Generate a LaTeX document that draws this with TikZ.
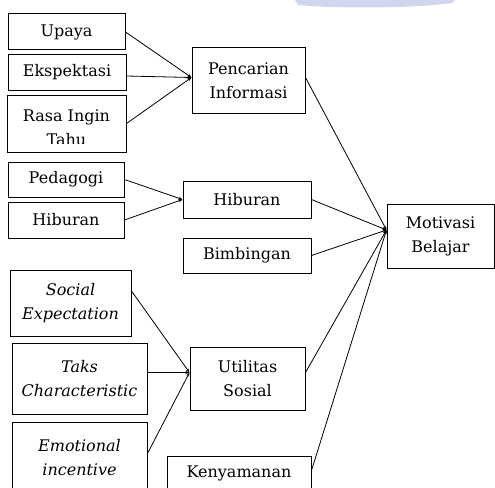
\documentclass[tikz,border=0pt]{standalone}
\usepackage{fontspec}
\setmainfont{DejaVu Serif}
\usetikzlibrary{arrows.meta}
\definecolor{tandaair}{RGB}{210,213,238}

\begin{document}
\begin{tikzpicture}[x=1pt, y=-1pt, font=\fontsize{16}{24}\selectfont,
  kotak/.style={draw, line width=1pt, align=center, inner sep=0pt},
  garis/.style={line width=0.8pt, -{Stealth[length=4pt, width=3pt]}}]
  \useasboundingbox (0,0) rectangle (495,487);
  \clip (0,0) rectangle (495,487);
  % --- sisa tanda air di atas ---
  \fill[tandaair] (295,0) -- (298,5) .. controls (340,9) and (420,8) .. (452,3) -- (455,0) -- cycle;
  % --- kolom kiri: indikator ---
  \node[kotak, minimum width=117, minimum height=36] (upaya) at (66.5,32) {Upaya};
  \node[kotak, minimum width=118, minimum height=35] (ekspektasi) at (67,72.5) {Ekspektasi};
  \node[kotak, minimum width=119, minimum height=57,
    path picture={
      \clip (path picture bounding box.north west) rectangle ([yshift=9pt]path picture bounding box.south east);
      \node[align=center] at ([yshift=-4pt]path picture bounding box.center) {Rasa Ingin\\Tahu};
    }] (rasa) at (66.5,123.5) {};
  \node[kotak, minimum width=116, minimum height=35] (pedagogi) at (66,179.5) {Pedagogi};
  \node[kotak, minimum width=116, minimum height=36] (hiburankiri) at (66,220) {Hiburan};
  \node[kotak, minimum width=121, minimum height=66] (sosexp) at (70.5,303) {\itshape Social\\\itshape Expectation};
  \node[kotak, minimum width=135, minimum height=71] (taks) at (79.5,378.5) {\itshape Taks\\\itshape Characteristic};
  \node[kotak, minimum width=135, minimum height=71] (emosi) at (79.5,457.5) {\itshape Emotional\\\itshape incentive};
  % --- kolom tengah: dimensi ---
  \node[kotak, minimum width=113, minimum height=65] (pencarian) at (248.5,80.5) {Pencarian\\Informasi};
  \node[kotak, minimum width=128, minimum height=37] (hiburan) at (247,199.5) {Hiburan};
  \node[kotak, minimum width=128, minimum height=35] (bimbingan) at (247,255.5) {Bimbingan};
  \node[kotak, minimum width=115, minimum height=63] (utilitas) at (247.5,378.5) {Utilitas\\Sosial};
  \node[kotak, minimum width=144, minimum height=35] (kenyamanan) at (239,473.5) {Kenyamanan};
  % --- kanan ---
  \node[kotak, minimum width=107, minimum height=64] (motivasi) at (440.5,236) {Motivasi\\Belajar};
  % --- garis ---
  \draw[garis] (upaya.east) -- ([yshift=3pt]pencarian.west);
  \draw[garis] ([yshift=-3.5pt]ekspektasi.east) -- ([yshift=3pt]pencarian.west);
  \draw[garis] (rasa.east) -- ([yshift=3pt]pencarian.west);
  \draw[garis] (pedagogi.east) -- (hiburan.west);
  \draw[garis] (hiburankiri.east) -- (hiburan.west);
  \draw[garis] ([yshift=12pt]sosexp.east) -- ([yshift=6pt]utilitas.west);
  \draw[garis] ([yshift=6pt]taks.east) -- ([yshift=6pt]utilitas.west);
  \draw[garis] ([yshift=4pt]emosi.east) -- ([yshift=6pt]utilitas.west);
  \draw[garis] ([yshift=3pt]pencarian.east) -- ([yshift=6pt]motivasi.west);
  \draw[garis] (hiburan.east) -- ([yshift=6pt]motivasi.west);
  \draw[garis] (bimbingan.east) -- ([yshift=6pt]motivasi.west);
  \draw[garis] ([yshift=6pt]utilitas.east) -- ([yshift=6pt]motivasi.west);
  \draw[garis] ([yshift=3pt]kenyamanan.east) -- ([yshift=6pt]motivasi.west);
\end{tikzpicture}
\end{document}
